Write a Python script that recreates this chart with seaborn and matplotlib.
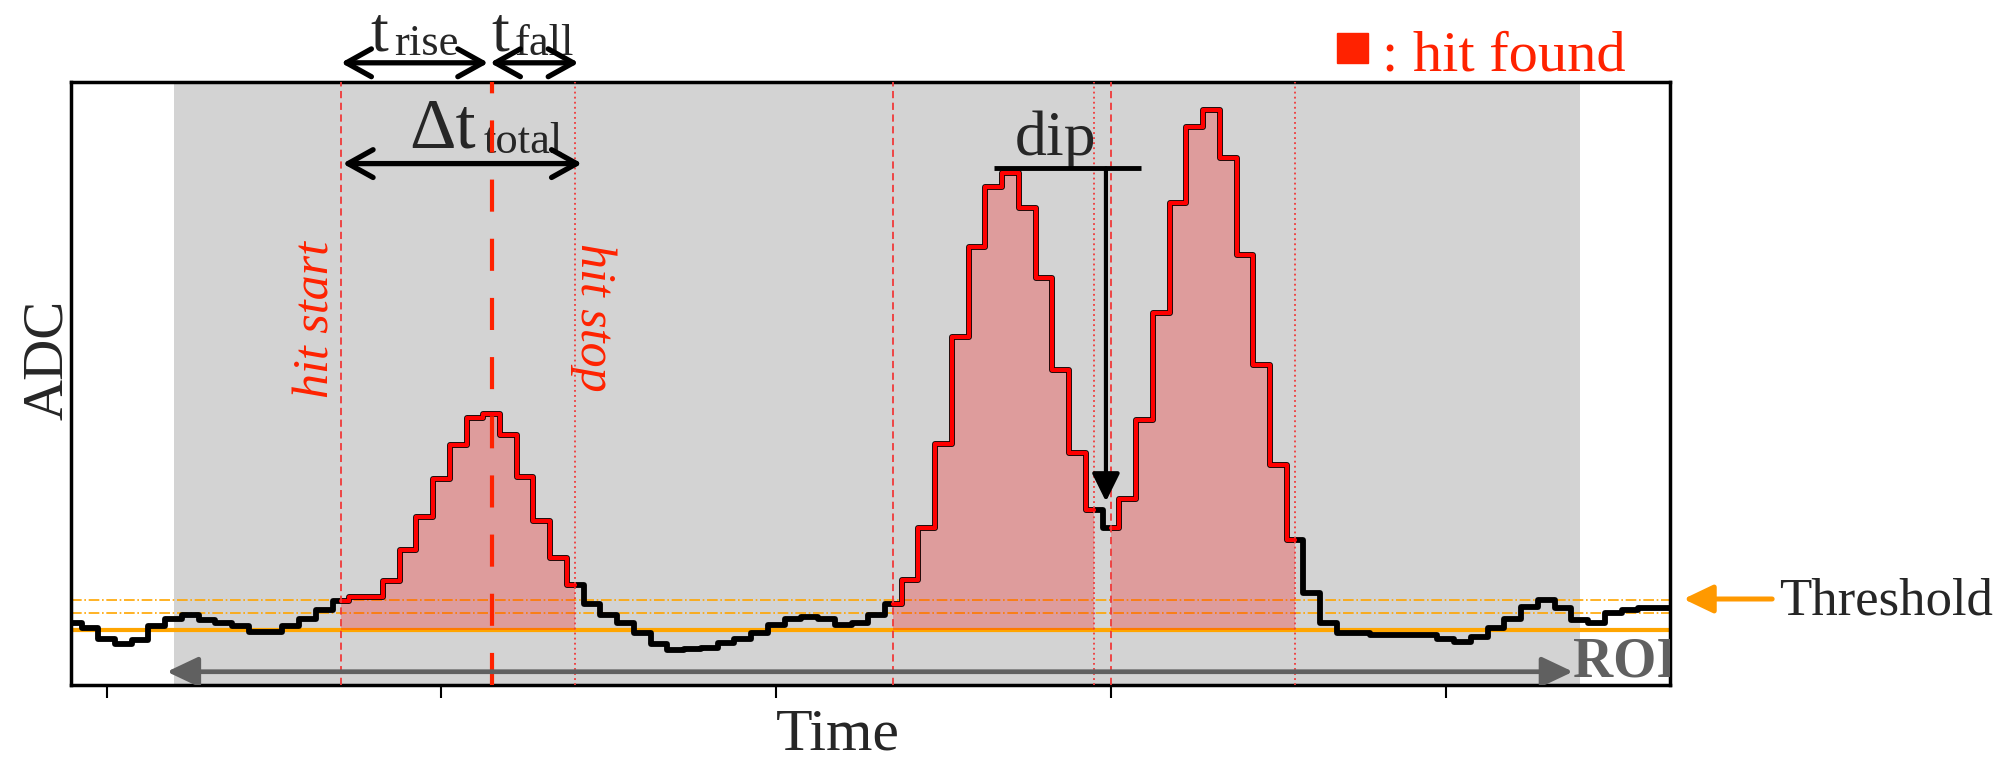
import numpy as np
import pandas as pd
import matplotlib
matplotlib.use("Agg")
import matplotlib.pyplot as plt
import seaborn as sns
from matplotlib.patches import FancyArrowPatch, Rectangle

# ---------------- data ----------------
sample = list(range(-3, 95))
adc = [10.2, 10.2, 9.5, 7.6, 6.8, 7.5, 9.7, 11.0, 11.6, 10.7,
       10.2, 9.8, 8.8, 8.8, 9.8, 11.0, 12.4, 14.0, 14.5, 14.5,
       17.3, 22.3, 27.9, 34.2, 39.8, 44.2, 44.9, 41.4, 34.5, 27.1,
       21.0, 16.6, 13.4, 11.6, 10.3, 8.6, 6.8, 5.8, 5.9, 6.1,
       7.0, 7.7, 8.6, 9.9, 11.0, 11.3, 11.0, 9.9, 10.2, 11.6,
       13.5, 17.4, 26.0, 40.0, 57.6, 72.6, 82.6, 84.8, 79.0, 67.4,
       52.2, 38.4, 29.0, 26.0, 30.9, 43.9, 61.6, 79.8, 92.5, 95.3,
       87.3, 71.3, 53.0, 36.5, 24.0, 15.2, 10.2, 8.6, 8.6, 8.3,
       8.3, 8.3, 8.3, 7.7, 7.2, 8.0, 9.4, 11.0, 12.9, 14.1,
       12.7, 10.8, 10.3, 11.9, 12.5, 12.7, 12.7, 12.7]
hit_start = [14, 47, 60]
hit_stop = [28, 59, 71]
peak_time = 23
baseline = 9.1
thresholds = [12.0, 14.1]
roi = [4, 88]
xticks = [0, 20, 40, 60, 80]

df = pd.DataFrame({"sample": sample, "adc": adc})

# ---------------- style ----------------
sns.set_style("white")
plt.rcParams["font.family"] = ["Liberation Serif", "DejaVu Serif"]

RED = "#FF2200"
HITLINE = "#F03A3A"
ORANGE = "#FFA500"
GREY = "#606060"

fig = plt.figure(figsize=(19.96, 7.59), dpi=100)
ax = fig.add_axes([0.0358, 0.0975, 0.8009, 0.7951])

ax.axvspan(roi[0], roi[1], color="lightgray", lw=0, zorder=0)

ax.axhline(baseline, color=ORANGE, lw=3, zorder=1)
for th in thresholds:
    ax.axhline(th, color=ORANGE, lw=1.2, ls="-.", zorder=1)

# hit fills
for s, e in zip(hit_start, hit_stop):
    sub = df[(df["sample"] >= s) & (df["sample"] <= e)]
    ax.fill_between(sub["sample"], baseline, sub["adc"], step="mid",
                    color="red", alpha=0.26, lw=0, zorder=2)

sns.lineplot(data=df, x="sample", y="adc", drawstyle="steps-mid",
             color="black", lw=4.2, ax=ax, zorder=3)
for s, e in zip(hit_start, hit_stop):
    sub = df[(df["sample"] >= s) & (df["sample"] <= e)]
    sns.lineplot(data=sub, x="sample", y="adc", drawstyle="steps-mid",
                 color="red", lw=3.0, ax=ax, zorder=4)

for s in hit_start:
    ax.axvline(s, color=HITLINE, lw=1.3, ls=(0, (4, 2.5)), zorder=5)
for e in hit_stop:
    ax.axvline(e, color=HITLINE, lw=1.3, ls=(0, (1, 1.8)), zorder=5)
ax.axvline(peak_time, color=RED, lw=3, ls=(0, (7.7, 6.5)), zorder=5)


def arrow(p0, p1, style, color, lw, clip=False):
    a = FancyArrowPatch(p0, p1, arrowstyle=style, mutation_scale=20,
                        lw=lw, color=color, shrinkA=0, shrinkB=0,
                        transform=ax.transData, zorder=10)
    a.set_clip_on(clip)
    ax.add_patch(a)


hv = "head_length=0.9,head_width=0.5"
# t_rise / t_fall / delta t
arrow((14, 103.1), (22.8, 103.1), "<->," + hv, "black", 3.8)
arrow((22.9, 103.1), (28.2, 103.1), "<->," + hv, "black", 3.8)
arrow((14.1, 86.4), (28.4, 86.4), "<->," + hv, "black", 3.8)
ax.text(15.76, 105.2, "t", fontsize=46, ha="left", va="baseline", clip_on=False)
ax.text(17.2, 104.4, "rise", fontsize=32, ha="left", va="baseline", clip_on=False)
ax.text(22.99, 105.2, "t", fontsize=46, ha="left", va="baseline", clip_on=False)
ax.text(24.35, 104.4, "fall", fontsize=32, ha="left", va="baseline", clip_on=False)
ax.text(18.1, 89.1, "\u0394t", fontsize=52, ha="left", va="baseline", clip_on=False)
ax.text(22.55, 88.2, "total", fontsize=32, ha="left", va="baseline", clip_on=False)

# hit start / stop labels
ax.text(12.5, 60.6, "hit start", fontsize=36, style="italic", color=RED,
        rotation=90, ha="center", va="center")
ax.text(29.1, 61.0, "hit stop", fontsize=36, style="italic", color=RED,
        rotation=270, ha="center", va="center")

# dip
ax.hlines(85.6, 53.0, 61.8, color="black", lw=3.5, zorder=10)
arrow((59.7, 85.6), (59.7, 30.4), "-|>,head_length=0.85,head_width=0.42", "black", 3)
ax.text(56.7, 87.8, "dip", fontsize=46, ha="center", va="baseline")

# ROI
arrow((3.6, 2.2), (87.6, 2.2), "<|-|>,head_length=0.95,head_width=0.45", GREY, 3.4, clip=True)
ax.text(87.6, 1.4, "ROI", fontsize=40, fontweight="bold", color=GREY,
        ha="left", va="baseline", clip_on=True, zorder=11)

# threshold
arrow((99.5, 14.25), (94.2, 14.25), "-|>,head_length=0.9,head_width=0.43", "#FF9900", 3.6)
ax.text(99.9, 11.6, "Threshold", fontsize=38, ha="left", va="baseline", clip_on=False)

# legend
fig.add_artist(Rectangle((0.6698, 0.917), 0.01553, 0.0395, color=RED,
                         transform=fig.transFigure))
ax.text(76.2, 101.9, ": hit found", fontsize=42, color=RED, ha="left",
        va="baseline", clip_on=False)

ax.set_xlim(-2.1, 93.4)
ax.set_ylim(0, 100)
ax.set_xticks(xticks)
ax.set_xticklabels([])
ax.set_yticks([])
ax.tick_params(axis="x", bottom=True, length=9.4, width=1.5, direction="out", color="black")
for sp in ax.spines.values():
    sp.set_visible(True)
    sp.set_color("black")
    sp.set_linewidth(2.5)

ax.set_xlabel("Time", fontsize=43, va="baseline")
ax.xaxis.set_label_coords(0.4796, -0.107)
ax.set_ylabel("ADC", fontsize=41, va="center")
ax.yaxis.set_label_coords(-0.0146, 0.538)

fig.savefig("out.png", dpi=100)
